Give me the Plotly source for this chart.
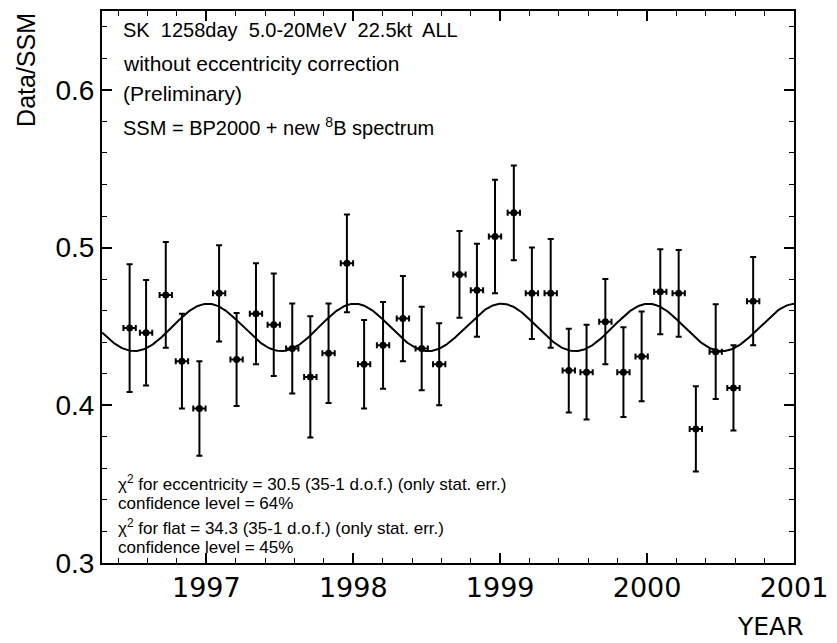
import numpy as np
import plotly.graph_objects as go

# ---- data ----
year = [1996.478, 1996.590, 1996.724, 1996.834, 1996.953, 1997.087, 1997.206,
        1997.338, 1997.459, 1997.585, 1997.708, 1997.832, 1997.957, 1998.074,
        1998.203, 1998.338, 1998.466, 1998.585, 1998.723, 1998.842, 1998.965,
        1999.093, 1999.216, 1999.344, 1999.467, 1999.588, 1999.716, 1999.839,
        1999.963, 2000.090, 2000.215, 2000.332, 2000.467, 2000.588, 2000.722]
ratio = [0.449, 0.446, 0.470, 0.428, 0.398, 0.471, 0.429, 0.458, 0.451, 0.436,
         0.418, 0.433, 0.490, 0.426, 0.438, 0.455, 0.436, 0.426, 0.483, 0.473,
         0.507, 0.522, 0.471, 0.471, 0.422, 0.421, 0.453, 0.421, 0.431, 0.472,
         0.471, 0.385, 0.434, 0.411, 0.466]
ratio_err = [0.0405, 0.0335, 0.0335, 0.030, 0.030, 0.0305, 0.0295, 0.032, 0.0325,
             0.0285, 0.0385, 0.0315, 0.031, 0.028, 0.0275, 0.027, 0.0265, 0.026,
             0.0275, 0.0295, 0.036, 0.030, 0.029, 0.0345, 0.0265, 0.030, 0.027,
             0.0285, 0.0285, 0.027, 0.0275, 0.027, 0.030, 0.027, 0.028]
year_halfwidth = 0.042

# eccentricity model (1/r^2 flux variation)
model_mean = 0.449
eccentricity = 0.0167
perihelion_frac = 0.01

x_range = [1996.29, 2001.0]
y_range = [0.3, 0.65]
x_ticks = [1997, 1998, 1999, 2000, 2001]
y_ticks = [0.3, 0.4, 0.5, 0.6]

t_model = np.linspace(x_range[0], x_range[1], 600)
phase = 2 * np.pi * (t_model - np.floor(t_model) - perihelion_frac)
model = model_mean / (1 - eccentricity * np.cos(phase)) ** 2

fig = go.Figure()
fig.add_trace(go.Scatter(x=t_model, y=model, mode="lines",
                         line=dict(color="black", width=2), hoverinfo="skip"))
fig.add_trace(go.Scatter(
    x=year, y=ratio, mode="markers",
    marker=dict(color="black", size=7, symbol="circle"),
    error_y=dict(type="data", array=ratio_err, color="black", thickness=2, width=3),
    error_x=dict(type="constant", value=year_halfwidth, color="black", thickness=2, width=3),
))

axis_common = dict(showline=True, linecolor="black", linewidth=2, mirror="ticks",
                   ticks="inside", ticklen=10, tickwidth=1.5, tickcolor="black",
                   showgrid=False, zeroline=False)

fig.update_xaxes(range=x_range, tickvals=x_ticks, ticktext=[str(v) for v in x_ticks],
                 tickfont=dict(family="DejaVu Sans", size=27, color="black"),
                 minor=dict(dtick=0.2, tick0=1997, ticks="inside", ticklen=5,
                            tickcolor="black", tickwidth=1.2),
                 **axis_common)
fig.update_yaxes(range=y_range, tickvals=y_ticks, ticktext=["0.3", "0.4", "0.5", "0.6"],
                 tickfont=dict(family="Liberation Sans", size=28, color="black"),
                 minor=dict(dtick=0.02, tick0=0.3, ticks="inside", ticklen=5,
                            tickcolor="black", tickwidth=1.2),
                 **axis_common)

ann_font = dict(family="Liberation Sans", color="black")
texts_top = [
    ("SK  1258day  5.0-20MeV  22.5kt  ALL", 0.965, 20),
    ("without eccentricity correction", 0.905, 21),
    ("(Preliminary)", 0.851, 21),
    ("SSM = BP2000 + new <sup>8</sup>B spectrum", 0.79, 20),
]
annotations = []
for txt, yy, sz in texts_top:
    annotations.append(dict(text=txt, x=0.027, y=yy, xref="paper", yref="paper",
                            xanchor="left", yanchor="middle", showarrow=False,
                            font=dict(size=sz, **ann_font)))
texts_bot = [
    ("χ<sup>2</sup> for eccentricity = 30.5 (35-1 d.o.f.) (only stat. err.)", 0.145),
    ("confidence level = 64%", 0.108),
    ("χ<sup>2</sup> for flat = 34.3 (35-1 d.o.f.) (only stat. err.)", 0.065),
    ("confidence level = 45%", 0.028),
]
for txt, yy in texts_bot:
    annotations.append(dict(text=txt, x=0.02, y=yy, xref="paper", yref="paper",
                            xanchor="left", yanchor="middle", showarrow=False,
                            font=dict(size=17, **ann_font)))
annotations.append(dict(text="Data/SSM", x=-0.11, y=1.0, xref="paper", yref="paper",
                        xanchor="center", yanchor="top", textangle=-90, showarrow=False,
                        font=dict(size=25, **ann_font)))
annotations.append(dict(text="YEAR", x=1.018, y=-0.085, xref="paper", yref="paper",
                        xanchor="right", yanchor="top", showarrow=False,
                        font=dict(family="DejaVu Sans", size=25, color="black")))

fig.update_layout(width=837, height=643, margin=dict(l=102, r=35, t=9, b=80),
                  plot_bgcolor="white", paper_bgcolor="white", showlegend=False,
                  annotations=annotations)

fig.write_html("out.html")
